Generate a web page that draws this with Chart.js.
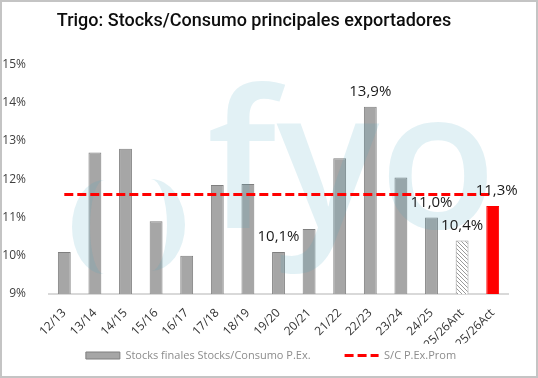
<!DOCTYPE html>
<html><head><meta charset="utf-8">
<script src="https://cdn.jsdelivr.net/npm/chart.js@4.4.1/dist/chart.umd.min.js"></script>
<style>
html,body{margin:0;padding:0;background:#fff}
#wrap{position:relative;width:538px;height:378px}
#frame{position:absolute;left:0;top:0;width:538px;height:378px;box-sizing:border-box;border:2px solid #c4c4c4;pointer-events:none}
canvas{display:block}
</style></head><body>
<div id="wrap"><canvas id="c" width="538" height="378"></canvas><div id="frame"></div></div>
<script>
const categories = ['12/13','13/14','14/15','15/16','16/17','17/18','18/19','19/20','20/21','21/22','22/23','23/24','24/25','25/26Ant','25/26Act'];
const stocksConsumo = [10.1, 12.7, 12.8, 10.9, 10.0, 11.85, 11.88, 10.1, 10.7, 12.55, 13.9, 12.05, 11.0, 10.4, 11.3];
const promedioSC = [11.6, 11.6, 11.6, 11.6, 11.6, 11.6, 11.6, 11.6, 11.6, 11.6, 11.6, 11.6, 11.6, 11.6, 11.6];
const valueLabels = ['', '', '', '', '', '', '', '10,1%', '', '', '13,9%', '', '11,0%', '10,4%', '11,3%'];
const seriesNames = ['Stocks finales Stocks/Consumo P.Ex.', 'S/C P.Ex.Prom'];
const titleText = 'Trigo: Stocks/Consumo principales exportadores';
const yMin = 9, yMax = 15;

// hatch pattern for the "Ant" bar
function hatch() {
  const p = document.createElement('canvas');
  p.width = 4; p.height = 4;
  const g = p.getContext('2d');
  g.fillStyle = '#ffffff'; g.fillRect(0, 0, 4, 4);
  g.strokeStyle = '#9a9a9a'; g.lineWidth = 1;
  g.beginPath(); g.moveTo(-1, -1); g.lineTo(5, 5); g.moveTo(-1, 3); g.lineTo(1, 5); g.moveTo(3, -1); g.lineTo(5, 1); g.stroke();
  return g.createPattern(p, 'repeat');
}
const pat = hatch();
const barFill = categories.map((c, i) => i === categories.length - 1 ? '#ff0000' : (i === categories.length - 2 ? pat : '#a6a6a6'));
const barBorder = categories.map((c, i) => i === categories.length - 1 ? '#ff0000' : (i === categories.length - 2 ? '#9a9a9a' : '#7f7f7f'));

const decor = {
  id: 'decor',
  beforeLayout(chart) {
    const lg = chart.legend;
    if (lg && !lg._patched) {
      const f = lg.fit;
      lg.fit = function () { f.call(this); this.height = 30; };
      lg._patched = true;
    }
  },
  afterLayout(chart) {
    const lg = chart.legend;
    if (lg) { lg.top = 316; lg.left += 34; }
  },
  afterDatasetDraw(chart, args) {
    if (args.index !== 0) return;
    const ctx = chart.ctx;
    const P = Math.PI;
    ctx.save();
    ctx.fillStyle = 'rgba(76,165,191,0.16)';
    // watermark logo crescents
    ctx.beginPath();
    ctx.ellipse(104, 227, 32, 47, 0, P / 2, 3 * P / 2, false);
    ctx.ellipse(104, 227, 14, 47, 0, 3 * P / 2, P / 2, true);
    ctx.closePath();
    ctx.fill();
    ctx.beginPath();
    ctx.ellipse(151, 225, 34, 46, 0, -P / 2, P / 2, false);
    ctx.ellipse(151, 225, 16, 46, 0, P / 2, -P / 2, true);
    ctx.closePath();
    ctx.fill();
    ctx.textBaseline = 'alphabetic';
    ctx.textAlign = 'left';
    ctx.font = '600 192px "Open Sans"';
    ctx.fillText('fyo', 207, 228);
    ctx.restore();
  },
  afterDatasetsDraw(chart) {
    const ctx = chart.ctx;
    const meta = chart.getDatasetMeta(0);
    ctx.save();
    ctx.fillStyle = '#1a1a1a';
    ctx.font = '15px "Open Sans"';
    ctx.textAlign = 'center';
    ctx.textBaseline = 'middle';
    meta.data.forEach((bar, i) => {
      if (valueLabels[i]) ctx.fillText(valueLabels[i], bar.x + (i === categories.length - 1 ? 4 : 0), bar.y - 15);
    });
    ctx.restore();
  }
};

new Chart(document.getElementById('c'), {
  type: 'bar',
  data: {
    labels: categories,
    datasets: [
      {
        label: seriesNames[0],
        data: stocksConsumo,
        backgroundColor: barFill,
        borderColor: barBorder,
        borderWidth: 1,
        categoryPercentage: 1,
        barPercentage: 0.42,
        pointStyle: 'rect',
        order: 1
      },
      {
        type: 'line',
        label: seriesNames[1],
        data: promedioSC,
        borderColor: '#ff0000',
        backgroundColor: '#ff0000',
        borderWidth: 3,
        borderDash: [9, 4],
        pointRadius: 0,
        pointStyle: 'line',
        fill: false,
        order: 0
      }
    ]
  },
  options: {
    responsive: false,
    animation: false,
    layout: { padding: { left: 0, right: 30, top: 0, bottom: 4 } },
    plugins: {
      title: {
        display: true,
        text: titleText,
        color: '#0d0d0d',
        font: { family: 'Roboto', size: 18, weight: '500' },
        padding: { top: 11, bottom: 32 }
      },
      legend: {
        position: 'bottom',
        reverse: true,
        labels: {
          usePointStyle: true,
          pointStyleWidth: 34,
          boxHeight: 7,
          color: '#8c8c8c',
          font: { family: '"Open Sans"', size: 11 },
          padding: 34,
          generateLabels(chart) {
            const items = Chart.defaults.plugins.legend.labels.generateLabels(chart);
            items.forEach(it => {
              if (it.datasetIndex === 1) {
                it.lineDash = [9, 4];
                it.lineWidth = 3;
                it.strokeStyle = '#ff0000';
              } else {
                it.fillStyle = '#a6a6a6';
                it.strokeStyle = '#7f7f7f';
                it.lineWidth = 1;
              }
            });
            return items;
          }
        }
      },
      tooltip: { enabled: false }
    },
    scales: {
      x: {
        grid: { display: false },
        border: { display: true, color: '#d9d9d9', width: 2 },
        ticks: {
          color: '#333333',
          font: { family: '"Open Sans"', size: 12 },
          maxRotation: 45, minRotation: 45, autoSkip: false, padding: 4
        },
        afterFit(scale) { scale.height = 50; }
      },
      y: {
        min: yMin, max: yMax,
        grid: { display: false },
        border: { display: false },
        ticks: {
          stepSize: 1,
          color: '#404040',
          font: { family: '"Open Sans"', size: 12 },
          padding: 15,
          callback: v => v + '%'
        },
        afterFit(scale) { scale.width = 49; }
      }
    }
  },
  plugins: [decor]
});
</script>
</body></html>
